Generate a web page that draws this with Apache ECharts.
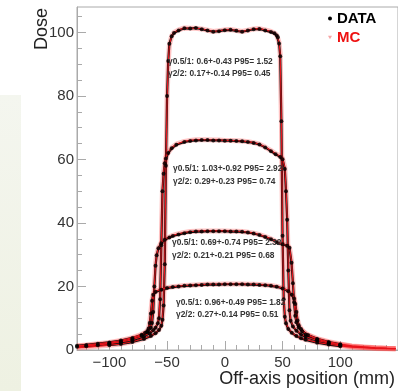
<!DOCTYPE html>
<html><head><meta charset="utf-8">
<script src="https://cdn.jsdelivr.net/npm/echarts@6/dist/echarts.min.js"></script>
<style>html,body{margin:0;padding:0;background:#fff}#c{width:398px;height:391px}</style>
</head><body><div id="c"></div>
<script>
// ---- Profile 1 (~100) ----
const x1 = [-128,-120,-110,-100,-90,-80,-70,-64,-60,-57,-55,-54,-53,-52,-51,-50,-49,-48,-46,-44,-40,-35,-30,-25,-20,-15,-10,-5,0,5,10,15,20,25,30,35,40,43,45,46,47,48,49,50,51,52,53,55,58,62,66,70,80,90,100,110,120,130,140,148];
const data1 = [null,null,null,1.5,1.9,2.5,3.5,4.4,5.3,6.3,7.6,9.5,14,27,58,80,91,96.4,98.8,99.8,100.6,101.3,101.2,101.4,101.0,100.6,100.2,100.4,100.7,100.8,100.5,100.2,100.6,101.0,101.1,100.6,100.1,99.7,99.0,98.5,96.5,92.5,72,36,16,10.5,8.4,6.6,5.4,4.4,3.7,3.2,2.3,1.7,1.2];
const mc1 = [0.7,0.9,1.2,1.5,1.9,2.6,3.6,4.5,5.4,6.4,7.8,9.8,15,28,57,79,90.5,96,98.9,100,100.8,101.4,101.3,101.3,101.1,100.7,100.3,100.5,100.8,100.9,100.6,100.3,100.7,101.1,101.2,100.8,100.3,99.8,99.1,98.6,96.8,93,73,37,16.5,10.8,8.6,6.8,5.5,4.5,3.8,3.3,2.4,1.8,1.3,0.9,0.7,0.5,0.4,0.35];
// ---- Profile 2 (~66) ----
const x2 = [-128,-120,-110,-100,-90,-80,-70,-65,-62,-60,-58,-57,-56,-55,-54,-53,-52,-51,-49,-46,-42,-35,-30,-25,-20,-15,-10,-5,0,5,10,15,20,25,30,35,40,44,48,50,52,53,54,55,56,57,59,62,66,70,80,90,100,110,120,130,140,148];
const data2 = [1.0,1.2,1.5,1.9,2.4,3.1,4.3,5.3,6.2,7.0,8.4,10,16,33,50,55.5,58.8,60.3,62,63.5,64.6,65.5,65.8,66.0,66.1,66.1,66.0,66.0,65.9,65.9,65.8,65.7,65.5,65.2,64.7,63.8,62.6,61.6,60.8,60.1,57,50,41,25,12.5,9.2,7.4,6.1,4.9,4.1,2.9,2.1,1.5];
const mc2 = [1.1,1.3,1.6,2.0,2.5,3.2,4.4,5.4,6.3,7.2,8.7,10.5,17,34,50.5,56,59,60.6,62.2,63.7,64.8,65.7,66.0,66.2,66.2,66.2,66.1,66.1,66.0,66.0,65.9,65.8,65.6,65.3,64.8,63.9,62.8,61.8,61.0,60.3,57.5,51,42,26,13,9.5,7.6,6.2,5.0,4.2,3.0,2.2,1.6,1.1,0.8,0.6,0.5,0.4];
// ---- Profile 3 (~37) ----
const x3 = [-128,-120,-110,-100,-90,-80,-72,-67,-64,-63,-62,-61,-60,-59,-57.5,-55,-52,-48,-45,-40,-35,-30,-25,-20,-15,-10,-5,0,5,10,15,20,25,30,35,40,45,50,54,56,57.8,59,60,61,62,64,67,72,80,90,100,110,120,130,140,148];
const data3 = [null,null,null,2.1,2.7,3.5,4.5,5.6,7.0,8.5,12,20,26.5,29.8,32,33.6,34.7,35.4,35.9,36.4,36.8,37.1,37.3,37.3,37.4,37.4,37.4,37.4,37.3,37.3,37.2,37.0,36.7,36.2,35.6,34.9,33.9,33.3,32.8,32.2,27.5,21,15,10.8,8.7,7.1,5.9,4.7,3.5,2.5,1.8];
const mc3 = [1.2,1.4,1.7,2.1,2.7,3.6,4.6,5.7,7.2,8.8,12.5,20.5,26.8,30,32.2,33.8,34.9,35.6,36.1,36.6,37.0,37.3,37.4,37.5,37.5,37.5,37.5,37.5,37.4,37.4,37.3,37.1,36.8,36.3,35.7,35.0,34.0,33.4,32.9,32.3,28,21.5,15.5,11,8.9,7.2,6.0,4.8,3.6,2.6,1.9,1.3,1.0,0.7,0.55,0.45];
// ---- Profile 4 (~21) ----
const x4 = [-128,-120,-110,-100,-90,-80,-72,-69,-67,-66,-65,-64,-63,-62,-60,-55,-50,-45,-40,-35,-30,-25,-20,-15,-10,-5,0,5,10,15,20,25,30,35,40,45,50,55,58,60,61,62,63,64,66,70,80,90,100,110,120,130,140,148];
const data4 = [1.3,1.6,2.0,2.4,3.0,3.8,4.8,5.4,6.0,6.8,8.5,11.5,15.5,17.4,18.3,19.0,19.5,19.8,20.0,20.2,20.3,20.4,20.5,20.6,20.6,20.6,20.7,20.7,20.7,20.7,20.6,20.6,20.5,20.4,20.2,19.9,19.4,18.5,17.4,16.2,14.5,12,9.3,7.8,6.6,4.9,3.3,2.3,1.6];
const mc4 = [1.3,1.6,2.0,2.4,3.0,3.9,4.9,5.5,6.2,7.0,8.8,12,15.8,17.5,18.4,19.1,19.6,19.9,20.1,20.3,20.4,20.5,20.6,20.7,20.7,20.7,20.8,20.8,20.8,20.8,20.7,20.7,20.6,20.5,20.3,20.0,19.5,18.6,17.5,16.4,14.8,12.3,9.6,8.0,6.7,5.0,3.4,2.4,1.7,1.2,0.9,0.7,0.55,0.45];

// ---- ticks ----
const xTickLabels = [-100,-50,0,50,100];
const xMinorTicks = [-120,-110,-90,-80,-70,-60,-40,-30,-20,-10,10,20,30,40,60,70,80,90,110,120,130,140];
const yTickLabels = [0,20,40,60,80,100];
const yMinorTicks = [5,10,15,25,30,35,45,50,55,65,70,75,85,90,95,105];

// ---- annotations ----
const gammaA = ["\u03b30.5/1: 0.6+-0.43 P95= 1.52","\u03b30.5/1: 1.03+-0.92 P95= 2.92","\u03b30.5/1: 0.69+-0.74 P95= 2.32","\u03b30.5/1: 0.96+-0.49 P95= 1.82"];
const gammaB = ["\u03b32/2: 0.17+-0.14 P95= 0.45","\u03b32/2: 0.29+-0.23 P95= 0.74","\u03b32/2: 0.21+-0.21 P95= 0.68","\u03b32/2: 0.27+-0.14 P95= 0.51"];

const FONT = '"Liberation Sans", Arial, Helvetica, sans-serif';
function pairs(xs, ys){ const out=[]; ys.forEach((y,i)=>{ if(y!=null) out.push([xs[i], y]); }); return out; }

const profiles = [[x1,data1,mc1],[x2,data2,mc2],[x3,data3,mc3],[x4,data4,mc4]];
const series = [];
profiles.forEach(([xs,d,m])=>{
  series.push({name:'band',type:'line',data:pairs(xs,m),symbol:'none',silent:true,z:1,
    lineStyle:{width:5,color:'rgba(255,70,70,0.33)'}});
});
profiles.forEach(([xs,d,m])=>{
  series.push({name:'DATA',type:'line',data:pairs(xs,d),symbol:'none',silent:true,z:2,
    lineStyle:{width:2.2,color:'#111'},itemStyle:{color:'#000'}});
});
profiles.forEach(([xs,d,m])=>{
  series.push({name:'MC',type:'line',data:pairs(xs,m),symbol:'none',z:3,
    lineStyle:{width:1.1,color:'#e8141b'},itemStyle:{color:'#f6a5a5'}});
});
profiles.forEach(([xs,d,m])=>{
  series.push({name:'DATA',type:'scatter',data:pairs(xs,d),symbol:'circle',symbolSize:4,z:4,
    itemStyle:{color:'#000'}});
});

const graphics = [
  {type:'rect',shape:{x:0,y:95,width:21,height:296},z:-10,style:{fill:new echarts.graphic.LinearGradient(0,0,0,1,[{offset:0,color:'#f4f6ef'},{offset:1,color:'#eef1e2'}])}},
  {type:'text',x:42,y:29,rotation:Math.PI/2,style:{text:'Dose',font:'18px '+FONT,fill:'#222',align:'center',verticalAlign:'middle',textAlign:'center',textVerticalAlign:'middle'}},
  {type:'text',x:395,y:379,style:{text:'Off-axis position (mm)',font:'18px '+FONT,fill:'#222',align:'right',verticalAlign:'middle',textAlign:'right',textVerticalAlign:'middle'}}
];
const gPos = [[168,62,74],[173,169,182],[172,243,256],[176,303,315]];
gPos.forEach((p,i)=>{
  graphics.push({type:'text',x:p[0],y:p[1],z:20,style:{text:gammaA[i],font:'bold 8.4px '+FONT,fill:'#333',align:'left',verticalAlign:'middle',textAlign:'left',textVerticalAlign:'middle'}});
  graphics.push({type:'text',x:p[0],y:p[2],z:20,style:{text:gammaB[i],font:'bold 8.4px '+FONT,fill:'#333',align:'left',verticalAlign:'middle',textAlign:'left',textVerticalAlign:'middle'}});
});

const axisCol = '#aaa';
const chart = echarts.init(document.getElementById('c'), null, {renderer:'canvas'});
chart.setOption({
  animation:false,
  backgroundColor:'#fff',
  grid:{left:77,top:7,right:-3,bottom:41,show:true,borderColor:axisCol,borderWidth:1,backgroundColor:'transparent'},
  legend:{
    orient:'vertical',left:323,top:6,itemGap:4,itemWidth:4,itemHeight:4,
    textStyle:{fontFamily:FONT,fontSize:15,fontWeight:'bold'},
    data:[
      {name:'DATA',icon:'circle',itemStyle:{color:'#000'},textStyle:{color:'#000'}},
      {name:'MC',icon:'path://M0,0 L10,0 L5,9 Z',itemStyle:{color:'#f6a5a5'},textStyle:{color:'#ee1111'}}
    ],
    selectedMode:false
  },
  xAxis:[
    {type:'value',min:-128,max:150,position:'bottom',
      axisLine:{show:true,onZero:false,lineStyle:{color:axisCol}},
      axisTick:{show:true,inside:true,length:9,customValues:xTickLabels,lineStyle:{color:axisCol}},
      axisLabel:{show:true,customValues:xTickLabels,fontSize:15,color:'#333',margin:5,fontFamily:FONT,
        formatter:v=>String(v).replace('-','\u2212')},
      splitLine:{show:false}},
    {type:'value',min:-128,max:150,position:'bottom',
      axisLine:{show:false,onZero:false},
      axisTick:{show:true,inside:true,length:5,customValues:xMinorTicks,lineStyle:{color:axisCol}},
      axisLabel:{show:false},splitLine:{show:false}}
  ],
  yAxis:[
    {type:'value',min:0,max:108,position:'left',
      axisLine:{show:true,onZero:false,lineStyle:{color:axisCol}},
      axisTick:{show:true,inside:true,length:9,customValues:yTickLabels,lineStyle:{color:axisCol}},
      axisLabel:{show:true,customValues:yTickLabels,fontSize:15,color:'#333',margin:3,fontFamily:FONT},
      splitLine:{show:false}},
    {type:'value',min:0,max:108,position:'left',
      axisLine:{show:false,onZero:false},
      axisTick:{show:true,inside:true,length:5,customValues:yMinorTicks,lineStyle:{color:axisCol}},
      axisLabel:{show:false},splitLine:{show:false}}
  ],
  graphic:graphics,
  series:series
});
</script></body></html>
